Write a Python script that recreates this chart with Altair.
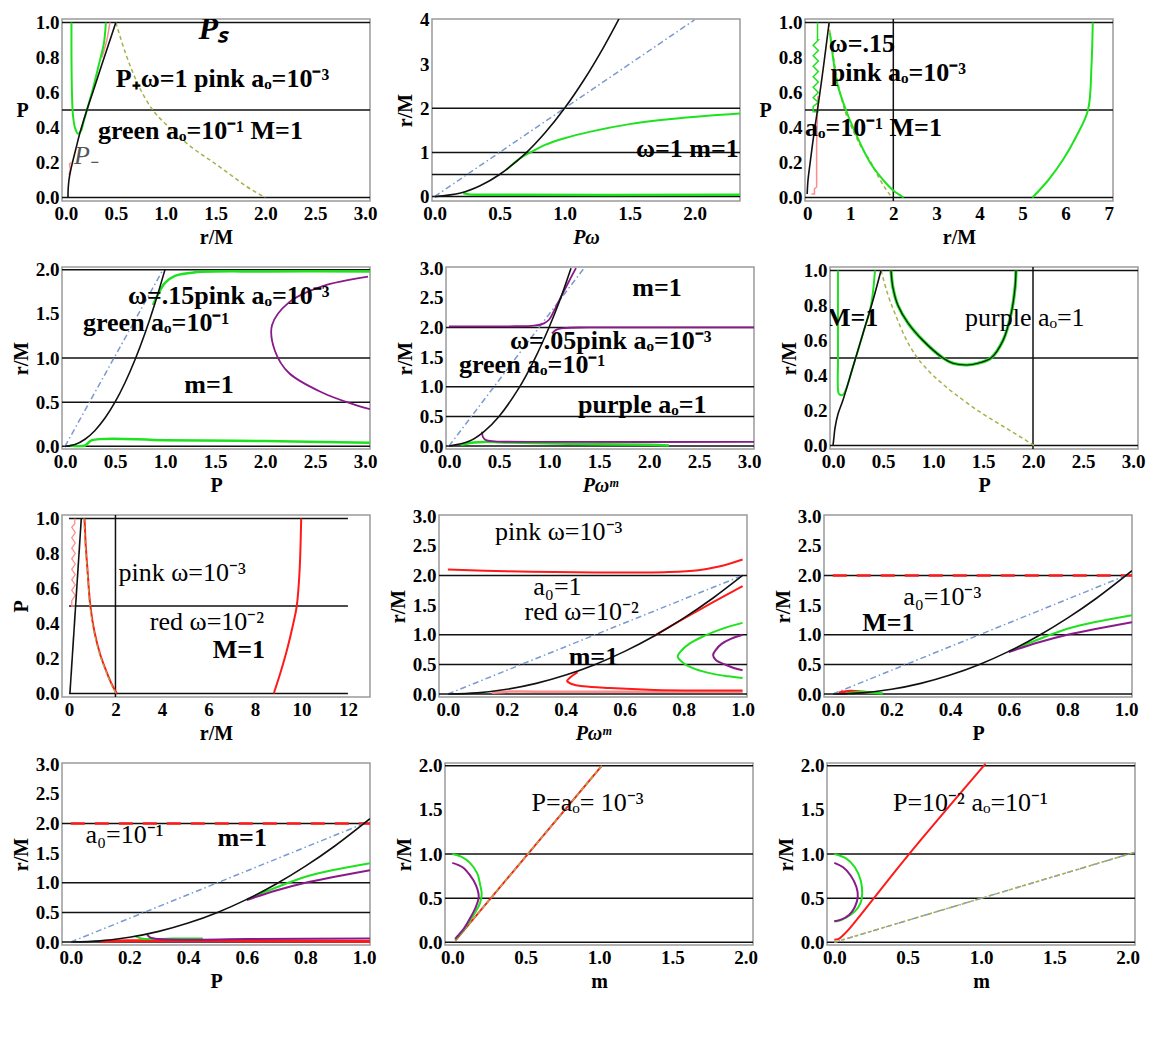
import altair as alt
import pandas as pd

FONT = "Liberation Serif"
GREEN = "#1fe21f"
RED = "#ff1a1a"
PINK = "#ff8c8c"
PURPLE = "#8a1a8a"
BLUE = "#7a9ad0"
OLIVE = "#a9b04a"
BLACK = "#111111"
DASHDOT = [6, 3, 1.5, 3]
DASHED = [4, 3]

# ---------------- panel 1 ----------------
p1_black = [(0.02, 0.0), (0.022, 0.05), (0.03, 0.1), (0.045, 0.15), (0.065, 0.2), (0.1, 0.28),
            (0.14, 0.37), (0.21, 0.5), (0.28, 0.62), (0.36, 0.76), (0.43, 0.88), (0.5, 1.0)]
p1_green = [(0.055, 1.0), (0.055, 0.8), (0.06, 0.6), (0.07, 0.47), (0.09, 0.4), (0.12, 0.365),
            (0.15, 0.38), (0.18, 0.44), (0.21, 0.5), (0.27, 0.62), (0.33, 0.76), (0.38, 0.88), (0.4, 1.0)]
p1_pink_top = [(0.36, 0.8), (0.41, 0.9), (0.44, 1.0)]
p1_pink_low = [(0.03, 0.13), (0.045, 0.16), (0.035, 0.19), (0.05, 0.2)]
p1_dash = [(0.5, 1.0), (0.6, 0.82), (0.72, 0.65), (0.87, 0.5), (1.0, 0.42), (1.12, 0.354), (1.3, 0.27),
           (1.48, 0.2), (1.65, 0.13), (1.82, 0.06), (2.0, 0.0)]
p1_labels = [(1.33, 0.965, "Pₛ", "big"), (0.5, 0.68, "P₊ω=1  pink aₒ=10⁻³", "b"),
             (0.32, 0.38, "green aₒ=10⁻¹ M=1", "b"), (0.08, 0.24, "P₋", "g")]

# ---------------- panel 2 ----------------
p2_black = [(0.0, 0.0), (0.2, 0.08), (0.35, 0.245), (0.5, 0.5), (0.7, 0.98), (0.85, 1.445),
            (1.0, 2.0), (1.15, 2.645), (1.3, 3.38), (1.42, 4.03)]
p2_dashdot = [(0.0, 0.0), (2.0, 4.0)]
p2_green_up = [(0.55, 0.6), (0.65, 0.85), (0.75, 1.02), (0.85, 1.17), (1.0, 1.32), (1.2, 1.47),
               (1.5, 1.64), (1.8, 1.75), (2.1, 1.83), (2.35, 1.88)]
p2_green_low = [(0.22, 0.08), (0.26, 0.05), (0.35, 0.04), (2.35, 0.04)]
p2_labels = [(2.34, 1.07, "ω=1 m=1", "b", "right")]

# ---------------- panel 3 ----------------
p3_black = [(0.0, 0.02), (0.02, 0.1), (0.07, 0.2), (0.15, 0.35), (0.24, 0.5), (0.38, 0.75), (0.51, 1.0)]
p3_green_zig = [(0.27, 0.49), (0.14, 0.49), (0.14, 0.52), (0.26, 0.545), (0.14, 0.57), (0.26, 0.6),
                (0.14, 0.63), (0.26, 0.66), (0.14, 0.69), (0.26, 0.72), (0.14, 0.75), (0.26, 0.78),
                (0.14, 0.81), (0.26, 0.84), (0.14, 0.87), (0.26, 0.9), (0.24, 0.9), (0.24, 1.0)]
p3_green_main = [(0.53, 0.94), (0.6, 0.8), (0.7, 0.65), (0.9, 0.5), (1.1, 0.38), (1.46, 0.2),
                 (1.8, 0.09), (2.0, 0.04), (2.24, 0.0)]
p3_green_right = [(5.23, 0.0), (5.6, 0.1), (5.95, 0.22), (6.25, 0.35), (6.52, 0.5), (6.6, 0.75), (6.63, 1.0)]
p3_pink = [(0.1, 0.02), (0.17, 0.02), (0.17, 0.05), (0.22, 0.06), (0.22, 0.3), (0.24, 0.5), (0.25, 0.58)]
p3_dash = [(0.5, 1.0), (0.6, 0.82), (0.72, 0.65), (0.87, 0.5), (1.0, 0.42), (1.12, 0.354), (1.3, 0.27),
           (1.48, 0.2), (1.65, 0.12), (1.82, 0.05), (1.97, 0.0)]
p3_labels = [(0.5, 0.88, "ω=.15", "b"), (0.55, 0.71, "pink aₒ=10⁻³", "b"), (-0.05, 0.4, "aₒ=10⁻¹  M=1", "b")]

# ---------------- panel 4 ----------------
p4_black = [(0.0, 0.0), (0.1, 0.02), (0.2, 0.08), (0.3, 0.18), (0.4, 0.32), (0.5, 0.5), (0.6, 0.72),
            (0.7, 0.98), (0.8, 1.28), (0.9, 1.62), (1.0, 2.0)]
p4_dashdot = [(0.0, 0.0), (0.98, 2.0)]
p4_green_up = [(0.88, 1.6), (0.93, 1.72), (1.0, 1.85), (1.1, 1.93), (1.3, 1.97), (2.0, 1.98), (3.05, 1.98)]
p4_green_low = [(0.05, 0.01), (0.2, 0.01), (0.27, 0.07), (1.0, 0.07), (2.0, 0.06), (3.05, 0.04)]
p4_purple = [(3.03, 1.92), (2.57, 1.81), (2.24, 1.63), (2.07, 1.37), (2.1, 1.08), (2.24, 0.83),
             (2.57, 0.61), (2.9, 0.47), (3.05, 0.42)]
p4_labels = [(0.63, 1.7, "ω=.15pink aₒ=10⁻³", "b"), (0.18, 1.4, "green aₒ=10⁻¹", "b"),
             (1.44, 0.69, "m=1", "b", "center")]

# ---------------- panel 5 ----------------
p5_black = [(0.0, 0.0), (0.2, 0.08), (0.35, 0.245), (0.5, 0.5), (0.7, 0.98), (0.85, 1.445),
            (1.0, 2.0), (1.1, 2.42), (1.22, 3.0)]
p5_dashdot = [(0.0, 0.0), (1.35, 3.0)]
p5_purple_up = [(0.0, 2.02), (0.6, 2.02), (0.85, 2.03), (0.95, 2.07), (1.0, 2.13), (1.05, 2.28),
                (1.1, 2.45), (1.2, 2.78), (1.27, 3.0)]
p5_purple_mid = [(1.03, 1.9), (1.07, 1.96), (1.15, 1.99), (1.4, 2.0), (3.05, 2.0)]
p5_purple_low = [(0.33, 0.24), (0.34, 0.15), (0.37, 0.1), (0.45, 0.08), (1.0, 0.07), (3.05, 0.07)]
p5_green_low = [(0.12, 0.02), (0.25, 0.06), (0.35, 0.07), (0.6, 0.06), (1.2, 0.04), (2.0, 0.02), (2.2, 0.01)]
p5_labels = [(2.08, 2.67, "m=1", "b", "center"), (0.61, 1.78, "ω=.05pink aₒ=10⁻³", "b"),
             (0.1, 1.37, "green aₒ=10⁻¹", "b"), (1.29, 0.69, "purple aₒ=1", "b")]

# ---------------- panel 6 ----------------
p6_black = [(0.0, 0.0), (0.01, 0.05), (0.02, 0.1), (0.05, 0.18), (0.1, 0.26), (0.2, 0.45),
            (0.3, 0.64), (0.4, 0.83), (0.48, 1.0)]
p6_green_left = [(0.05, 1.0), (0.05, 0.5), (0.055, 0.3), (0.07, 0.29), (0.1, 0.29), (0.13, 0.32),
                 (0.2, 0.45), (0.3, 0.64), (0.38, 0.8), (0.42, 1.0)]
p6_u = [(0.58, 1.0), (0.6, 0.9), (0.65, 0.8), (0.75, 0.7), (0.9, 0.6), (1.1, 0.5), (1.2, 0.47),
        (1.34, 0.46), (1.45, 0.47), (1.58, 0.5), (1.7, 0.6), (1.78, 0.75), (1.82, 0.9), (1.83, 1.0)]
p6_dash = [(0.48, 1.0), (0.55, 0.86), (0.63, 0.74), (0.72, 0.62), (0.82, 0.52), (0.95, 0.43),
           (1.1, 0.35), (1.3, 0.26), (1.5, 0.18), (1.7, 0.11), (1.9, 0.04), (2.01, 0.0)]
p6_labels = [(-0.07, 0.73, "M=1", "b"), (1.32, 0.73, "purple aₒ=1", "n")]

# ---------------- panel 7 ----------------
p7_black = [(0.04, 0.0), (0.53, 1.0)]
p7_red_left = [(0.67, 1.0), (0.72, 0.85), (0.8, 0.7), (0.92, 0.5), (1.1, 0.35), (1.35, 0.22),
               (1.6, 0.13), (1.85, 0.05), (2.06, 0.0)]
p7_dash = [(0.64, 1.0), (0.7, 0.85), (0.79, 0.7), (0.9, 0.5), (1.08, 0.35), (1.33, 0.22),
           (1.58, 0.13), (1.83, 0.05), (2.03, 0.0)]
p7_red_right = [(8.81, 0.0), (9.1, 0.12), (9.4, 0.26), (9.65, 0.4), (9.8, 0.5), (9.92, 0.7), (9.99, 1.0)]
p7_pink_zig = [(0.28, 0.5), (0.12, 0.5), (0.12, 0.53), (0.27, 0.56), (0.12, 0.59), (0.27, 0.62),
               (0.12, 0.65), (0.27, 0.68), (0.12, 0.71), (0.27, 0.74), (0.12, 0.77), (0.27, 0.8),
               (0.12, 0.83), (0.27, 0.86), (0.12, 0.89), (0.27, 0.92), (0.12, 0.95), (0.25, 0.97), (0.25, 1.0)]
p7_labels = [(2.13, 0.69, "pink ω=10⁻³", "n"), (3.48, 0.41, "red ω=10⁻²", "n"), (6.18, 0.25, "M=1", "b")]

# ---------------- panel 8 ----------------
p8_black = [(0.0, 0.0), (0.1, 0.02), (0.2, 0.08), (0.3, 0.18), (0.4, 0.32), (0.5, 0.5), (0.6, 0.72),
            (0.7, 0.98), (0.8, 1.28), (0.9, 1.62), (1.0, 2.0)]
p8_dashdot = [(0.0, 0.0), (1.0, 2.0)]
p8_red_up = [(0.0, 2.1), (0.2, 2.07), (0.5, 2.05), (0.75, 2.06), (0.85, 2.09), (0.92, 2.15), (1.0, 2.27)]
p8_red_mid = [(0.7, 0.98), (0.8, 1.27), (0.9, 1.55), (1.0, 1.82)]
p8_red_low = [(0.44, 0.37), (0.415, 0.28), (0.405, 0.22), (0.42, 0.17), (0.46, 0.13), (0.55, 0.1),
              (0.7, 0.07), (0.85, 0.06), (1.0, 0.06)]
p8_pink = [(0.15, 0.02), (0.2, 0.04), (0.3, 0.04), (1.0, 0.04)]
p8_green = [(1.0, 1.2), (0.93, 1.1), (0.87, 0.98), (0.82, 0.85), (0.79, 0.72), (0.78, 0.63), (0.8, 0.52),
            (0.84, 0.42), (0.9, 0.34), (0.95, 0.3), (1.0, 0.27)]
p8_purple = [(1.0, 1.0), (0.96, 0.93), (0.93, 0.85), (0.91, 0.75), (0.9, 0.66), (0.91, 0.57),
             (0.94, 0.5), (0.97, 0.44), (1.0, 0.4)]
p8_labels = [(0.16, 2.73, "pink ω=10⁻³", "n"), (0.29, 1.8, "a₀=1", "n"),
             (0.26, 1.38, "red ω=10⁻²", "n"), (0.41, 0.62, "m=1", "b")]

# ---------------- panels 9 and 10 ----------------
p9_black = [(0.0, 0.0), (0.1, 0.02), (0.2, 0.08), (0.3, 0.18), (0.4, 0.32), (0.5, 0.5), (0.6, 0.72),
            (0.7, 0.98), (0.8, 1.28), (0.9, 1.62), (1.02, 2.08)]
p9_dashdot = [(0.0, 0.0), (1.0, 2.0)]
p9_red_line = [(0.0, 2.0), (1.02, 2.0)]
p9_green = [(0.6, 0.72), (0.7, 0.92), (0.8, 1.1), (0.9, 1.22), (1.02, 1.33)]
p9_purple = [(0.6, 0.71), (0.7, 0.87), (0.8, 1.0), (0.9, 1.1), (1.02, 1.21)]
p9_red_small = [(0.02, 0.02), (0.06, 0.05), (0.1, 0.04), (0.14, 0.02)]
p9_green_small = [(0.05, 0.01), (0.08, 0.03), (0.12, 0.03), (0.17, 0.01)]
p9_labels = [(0.24, 1.64, "a₀=10⁻³", "n"), (0.1, 1.19, "M=1", "b")]

p10_green_small = [(0.22, 0.1), (0.24, 0.06), (0.3, 0.05), (0.35, 0.06), (0.4, 0.06), (0.45, 0.06)]
p10_purple_small = [(0.26, 0.13), (0.27, 0.08), (0.3, 0.05), (0.4, 0.04), (0.6, 0.05), (1.02, 0.06)]
p10_red_small = [(0.1, 0.01), (0.2, 0.02), (0.5, 0.02), (1.02, 0.01)]
p10_labels = [(0.05, 1.8, "a₀=10⁻¹", "n"), (0.5, 1.75, "m=1", "b")]

# ---------------- panels 11 and 12 ----------------
p11_line = [(0.02, 0.02), (1.02, 2.0)]
p11_green = [(0.0, 1.0), (0.06, 0.97), (0.12, 0.9), (0.17, 0.78), (0.19, 0.65), (0.2, 0.55),
             (0.19, 0.45), (0.16, 0.35), (0.12, 0.25), (0.08, 0.15), (0.04, 0.07), (0.02, 0.03)]
p11_purple = [(0.0, 0.9), (0.07, 0.85), (0.12, 0.76), (0.16, 0.65), (0.18, 0.52), (0.16, 0.4),
              (0.12, 0.27), (0.08, 0.16), (0.04, 0.08), (0.02, 0.04)]
p11_labels = [(0.54, 1.58, "P=aₒ= 10⁻³", "n")]

p12_red = [(0.0, 0.03), (0.03, 0.04), (0.06, 0.08), (0.1, 0.15), (0.5, 0.98), (1.03, 2.02)]
p12_half = [(0.0, 0.0), (2.05, 1.02)]
p12_green = [(0.0, 1.0), (0.08, 0.95), (0.14, 0.85), (0.18, 0.7), (0.19, 0.55), (0.18, 0.45),
             (0.14, 0.35), (0.08, 0.28), (0.02, 0.24), (0.0, 0.24)]
p12_purple = [(0.0, 0.9), (0.06, 0.85), (0.11, 0.76), (0.15, 0.63), (0.16, 0.52), (0.14, 0.4),
              (0.1, 0.31), (0.05, 0.26), (0.0, 0.24)]
p12_labels = [(0.4, 1.58, "P=10⁻² aₒ=10⁻¹", "n")]

# ---------------- ticks ----------------
T_0_3 = [0, 0.5, 1.0, 1.5, 2.0, 2.5, 3.0]
T_0_1 = [0, 0.2, 0.4, 0.6, 0.8, 1.0]
T_0_2 = [0, 0.5, 1.0, 1.5, 2.0]

STY = {
    "b": dict(fontSize=26, fontWeight="bold"),
    "n": dict(fontSize=26, fontWeight="normal"),
    "big": dict(fontSize=32, fontWeight="bold", fontStyle="italic"),
    "g": dict(fontSize=26, fontWeight="normal", fontStyle="italic", color="#555555"),
}

W, H = 308, 182
LIN = "linear"
SM = "catmull-rom"


def mk_df(pts):
    return pd.DataFrame({"x": [p[0] for p in pts], "y": [p[1] for p in pts],
                         "i": list(range(len(pts)))})


def panel(sp):
    xs = alt.Scale(domain=sp["xdom"], nice=False, zero=False)
    ys = alt.Scale(domain=sp["ydom"], nice=False, zero=False)
    xax = alt.Axis(values=sp["xticks"], format=sp["xfmt"], title=sp["xtitle"],
                   titleFontStyle=sp.get("xstyle", "normal"))
    if sp.get("yflat"):
        yax = alt.Axis(values=sp["yticks"], format=sp["yfmt"], title=sp["ytitle"],
                       titleAngle=0, titleAlign="right", titleBaseline="middle", titlePadding=7)
    else:
        yax = alt.Axis(values=sp["yticks"], format=sp["yfmt"], title=sp["ytitle"])
    X = alt.X("x:Q", scale=xs, axis=xax)
    Y = alt.Y("y:Q", scale=ys, axis=yax)
    layers = []
    hl = pd.DataFrame({"y": sp["hlines"]})
    if "hx" in sp:
        hl["x"] = sp["hx"][0]
        hl["x2"] = sp["hx"][1]
        layers.append(alt.Chart(hl).mark_rule(color=BLACK, strokeWidth=1.5).encode(
            x=X, x2="x2:Q", y=Y))
    else:
        layers.append(alt.Chart(hl).mark_rule(color=BLACK, strokeWidth=1.5).encode(y=Y))
    if sp.get("vlines"):
        vl = pd.DataFrame({"x": sp["vlines"]})
        layers.append(alt.Chart(vl).mark_rule(color=BLACK, strokeWidth=1.5).encode(x=X))
    for c in sp["curves"]:
        pts, color, dash, w = c[:4]
        interp = c[4] if len(c) > 4 else SM
        kw = dict(color=color, strokeWidth=w, clip=True, interpolate=interp)
        if dash:
            kw["strokeDash"] = dash
        layers.append(alt.Chart(mk_df(pts)).mark_line(**kw).encode(
            x=X, y=Y, order=alt.Order("i:Q")))
    for lab in sp["labels"]:
        x, y, t, s = lab[:4]
        align = lab[4] if len(lab) > 4 else "left"
        st = dict(STY[s])
        color = st.pop("color", "black")
        df = pd.DataFrame({"x": [x], "y": [y], "t": [t]})
        layers.append(alt.Chart(df).mark_text(align=align, baseline="middle", font=FONT,
                                              color=color, clip=True, **st).encode(
            x=X, y=Y, text="t:N"))
    return alt.layer(*layers).properties(width=W, height=H)


specs = [
    dict(xdom=[-0.04, 3.05], ydom=[-0.02, 1.02], xticks=T_0_3, yticks=T_0_1, xfmt=".1f", yfmt=".1f",
         xtitle="r/M", ytitle="P", yflat=True, hlines=[0, 0.5, 1.0],
         curves=[(p1_dash, OLIVE, DASHED, 1.5, "monotone"), (p1_pink_top, PINK, None, 1.5),
                 (p1_pink_low, PINK, None, 1.5, LIN), (p1_green, GREEN, None, 2),
                 (p1_black, BLACK, None, 1.6)], labels=p1_labels),
    dict(xdom=[-0.02, 2.35], ydom=[-0.1, 4.02], xticks=[0, 0.5, 1.0, 1.5, 2.0], yticks=[0, 1, 2, 3, 4],
         xfmt=".1f", yfmt="d", xtitle="Pω", xstyle="italic", ytitle="r/M", hlines=[0, 0.5, 1, 2],
         curves=[(p2_dashdot, BLUE, DASHDOT, 1.5), (p2_green_up, GREEN, None, 2),
                 (p2_green_low, GREEN, None, 2.5), (p2_black, BLACK, None, 1.6)], labels=p2_labels),
    dict(xdom=[-0.05, 7.1], ydom=[-0.02, 1.02], xticks=[0, 1, 2, 3, 4, 5, 6, 7], yticks=T_0_1,
         xfmt="d", yfmt=".1f", xtitle="r/M", ytitle="P", yflat=True, hlines=[0, 0.5, 1.0], vlines=[2],
         curves=[(p3_dash, OLIVE, DASHED, 1.5, "monotone"), (p3_pink, PINK, None, 1.5, LIN),
                 (p3_green_zig, GREEN, None, 1.5, LIN), (p3_green_main, GREEN, None, 2),
                 (p3_green_right, GREEN, None, 2), (p3_black, BLACK, None, 1.6)], labels=p3_labels),
    dict(xdom=[-0.03, 3.05], ydom=[-0.03, 2.03], xticks=T_0_3, yticks=T_0_2, xfmt=".1f", yfmt=".1f",
         xtitle="P", ytitle="r/M", hlines=[0, 0.5, 1, 2],
         curves=[(p4_dashdot, BLUE, DASHDOT, 1.5), (p4_green_up, GREEN, None, 2.5),
                 (p4_green_low, GREEN, None, 2.5), (p4_purple, PURPLE, None, 1.8),
                 (p4_black, BLACK, None, 1.6)], labels=p4_labels),
    dict(xdom=[-0.03, 3.05], ydom=[-0.05, 3.02], xticks=T_0_3, yticks=T_0_3, xfmt=".1f", yfmt=".1f",
         xtitle="Pωᵐ", xstyle="italic", ytitle="r/M", hlines=[0, 0.5, 1, 2],
         curves=[(p5_dashdot, BLUE, DASHDOT, 1.5), (p5_green_low, GREEN, None, 2.5),
                 (p5_purple_up, PURPLE, None, 1.8), (p5_purple_mid, PURPLE, None, 1.8),
                 (p5_purple_low, PURPLE, None, 1.8), (p5_black, BLACK, None, 1.6)], labels=p5_labels),
    dict(xdom=[-0.03, 3.05], ydom=[-0.02, 1.02], xticks=T_0_3, yticks=T_0_1, xfmt=".1f", yfmt=".1f",
         xtitle="P", ytitle="r/M", hlines=[0, 0.5, 1.0], vlines=[2.0],
         curves=[(p6_dash, OLIVE, DASHED, 1.5, "monotone"), (p6_green_left, GREEN, None, 2),
                 (p6_u, GREEN, None, 3.2), (p6_u, BLACK, None, 1.2),
                 (p6_black, BLACK, None, 1.6)], labels=p6_labels),
    dict(xdom=[-0.3, 12.95], ydom=[-0.02, 1.02], xticks=[0, 2, 4, 6, 8, 10, 12], yticks=T_0_1,
         xfmt="d", yfmt=".1f", xtitle="r/M", ytitle="P", hlines=[0, 0.5, 1.0], hx=(0, 12), vlines=[2],
         curves=[(p7_pink_zig, PINK, None, 1.3, LIN), (p7_red_left, RED, None, 2),
                 (p7_dash, OLIVE, DASHED, 1.3), (p7_red_right, RED, None, 2),
                 (p7_black, BLACK, None, 1.6)], labels=p7_labels),
    dict(xdom=[-0.03, 1.015], ydom=[-0.05, 3.02], xticks=T_0_1, yticks=T_0_3, xfmt=".1f", yfmt=".1f",
         xtitle="Pωᵐ", xstyle="italic", ytitle="r/M", hlines=[0, 0.5, 1, 2],
         curves=[(p8_dashdot, BLUE, DASHDOT, 1.5), (p8_pink, PINK, None, 2.5),
                 (p8_red_up, RED, None, 2), (p8_red_mid, RED, None, 2), (p8_red_low, RED, None, 2),
                 (p8_green, GREEN, None, 2), (p8_purple, PURPLE, None, 2),
                 (p8_black, BLACK, None, 1.6)], labels=p8_labels),
    dict(xdom=[-0.03, 1.02], ydom=[-0.05, 3.02], xticks=T_0_1, yticks=T_0_3, xfmt=".1f", yfmt=".1f",
         xtitle="P", ytitle="r/M", hlines=[0, 0.5, 1, 2],
         curves=[(p9_red_line, RED, [14, 10], 2.5), (p9_dashdot, BLUE, DASHDOT, 1.5),
                 (p9_red_small, RED, None, 2.5), (p9_green_small, GREEN, None, 2.5),
                 (p9_green, GREEN, None, 2), (p9_purple, PURPLE, None, 2),
                 (p9_black, BLACK, None, 1.6)], labels=p9_labels),
    dict(xdom=[-0.03, 1.02], ydom=[-0.05, 3.02], xticks=T_0_1, yticks=T_0_3, xfmt=".1f", yfmt=".1f",
         xtitle="P", ytitle="r/M", hlines=[0, 0.5, 1, 2],
         curves=[(p9_red_line, RED, [14, 10], 2.5), (p9_dashdot, BLUE, DASHDOT, 1.5),
                 (p10_red_small, RED, None, 3), (p10_green_small, GREEN, None, 2),
                 (p10_purple_small, PURPLE, None, 2),
                 (p9_green, GREEN, None, 2), (p9_purple, PURPLE, None, 2),
                 (p9_black, BLACK, None, 1.6)], labels=p10_labels),
    dict(xdom=[-0.05, 2.05], ydom=[-0.03, 2.03], xticks=T_0_2, yticks=T_0_2, xfmt=".1f", yfmt=".1f",
         xtitle="m", ytitle="r/M", hlines=[0, 0.5, 1, 2],
         curves=[(p11_line, RED, None, 2), (p11_line, OLIVE, DASHED, 1.5),
                 (p11_green, GREEN, None, 2), (p11_purple, PURPLE, None, 2)], labels=p11_labels),
    dict(xdom=[-0.05, 2.05], ydom=[-0.03, 2.03], xticks=T_0_2, yticks=T_0_2, xfmt=".1f", yfmt=".1f",
         xtitle="m", ytitle="r/M", hlines=[0, 0.5, 1, 2],
         curves=[(p12_red, RED, None, 2), (p12_half, BLUE, DASHDOT, 1.5), (p12_half, OLIVE, DASHED, 1.5),
                 (p12_green, GREEN, None, 2), (p12_purple, PURPLE, None, 2)], labels=p12_labels),
]

panels = [panel(s) for s in specs]
rows = [alt.hconcat(*panels[i:i + 3], spacing=16) for i in range(0, 12, 3)]

chart = alt.vconcat(*rows, spacing=10).properties(padding=2).configure_view(
    stroke="#9a9a9a", strokeWidth=1.5
).configure_axis(
    labelFont=FONT, labelFontSize=19, labelFontWeight="bold", labelColor="black",
    titleFont=FONT, titleFontSize=20, titleFontWeight="bold", titleColor="black",
    ticks=False, grid=False, domain=False, labelPadding=3, titlePadding=4,
    labelFlush=False, labelOverlap=False
)

chart.save("out.html", embed_options={"renderer": "svg", "actions": False})
